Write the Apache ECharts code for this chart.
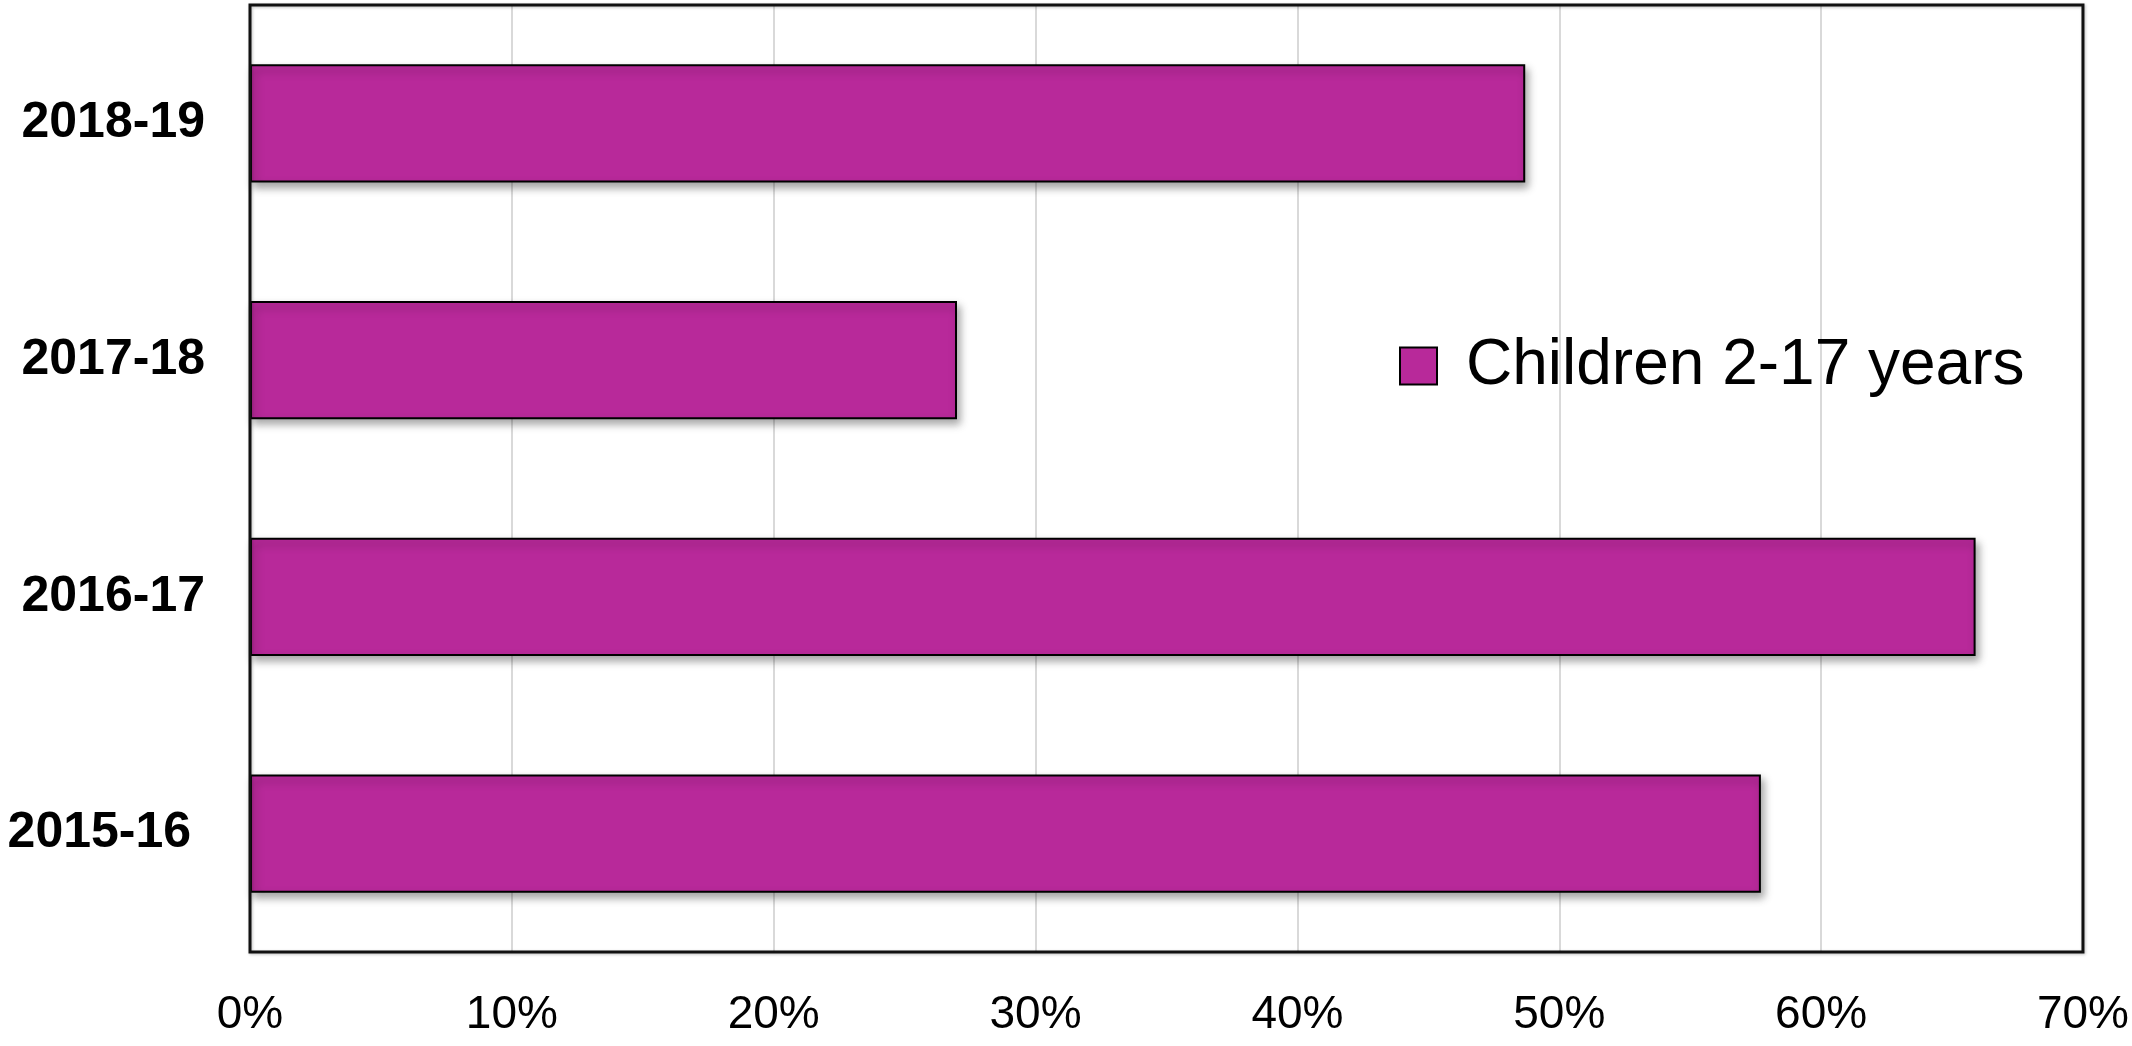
<!DOCTYPE html>
<html lang="en">

<head>
    <meta charset="UTF-8">
    <title>Children 2-17 years</title>
    <script src="https://cdn.jsdelivr.net/npm/echarts@6/dist/echarts.min.js"></script>
    <style>
        * {
            padding: 0;
            margin: 0;
        }

        #chart {
            width: 2132px;
            height: 1046px;
            background: #fff;
        }
    </style>
</head>

<body>
    <div id="chart"></div>
</body>
<script>
    // data, bottom to top
    var years = ['2015-16 ', '2016-17', '2017-18', '2018-19'];
    var children = [57.7, 65.9, 27.0, 48.7];
    var xTicks = [0, 10, 20, 30, 40, 50, 60, 70];
    var seriesName = 'Children 2-17 years';

    var font = '"Liberation Sans", Arial, Helvetica, sans-serif';
    var chart = echarts.init(document.getElementById('chart'));

    chart.setOption({
        animation: false,
        backgroundColor: '#fff',
        grid: {
            left: 250,
            right: 46,
            top: 5,
            bottom: 94,
            show: true,
            z: 10,
            borderColor: '#111',
            borderWidth: 3,
            shadowColor: 'rgba(0,0,0,0.25)',
            shadowBlur: 3,
            shadowOffsetX: 1,
            shadowOffsetY: 1
        },
        legend: {
            data: [seriesName],
            left: 1394,
            top: 329,
            itemWidth: 37,
            itemHeight: 37,
            icon: 'rect',
            itemStyle: { borderColor: '#000', borderWidth: 2 },
            textStyle: {
                fontFamily: font,
                fontSize: 64,
                color: '#000',
                padding: [0, 0, 0, 24]
            }
        },
        xAxis: {
            type: 'value',
            min: xTicks[0],
            max: xTicks[xTicks.length - 1],
            interval: 10,
            axisLine: { show: false },
            axisTick: { show: false },
            splitLine: {
                showMinLine: false,
                showMaxLine: false,
                lineStyle: { color: '#d9d9d9', width: 2 }
            },
            axisLabel: {
                formatter: '{value}%',
                margin: 40,
                fontFamily: font,
                fontSize: 46,
                color: '#000'
            }
        },
        yAxis: {
            type: 'category',
            data: years,
            axisLine: { show: false },
            axisTick: { show: false },
            axisLabel: {
                margin: 45,
                fontFamily: font,
                fontSize: 50,
                fontWeight: 'bold',
                color: '#000'
            }
        },
        series: [{
            name: seriesName,
            type: 'bar',
            data: children,
            barCategoryGap: '50%',
            itemStyle: {
                color: '#b8299a',
                borderColor: '#000',
                borderWidth: 2,
                shadowColor: 'rgba(0,0,0,0.35)',
                shadowBlur: 8,
                shadowOffsetX: 3,
                shadowOffsetY: 5
            }
        }]
    });
</script>

</html>
